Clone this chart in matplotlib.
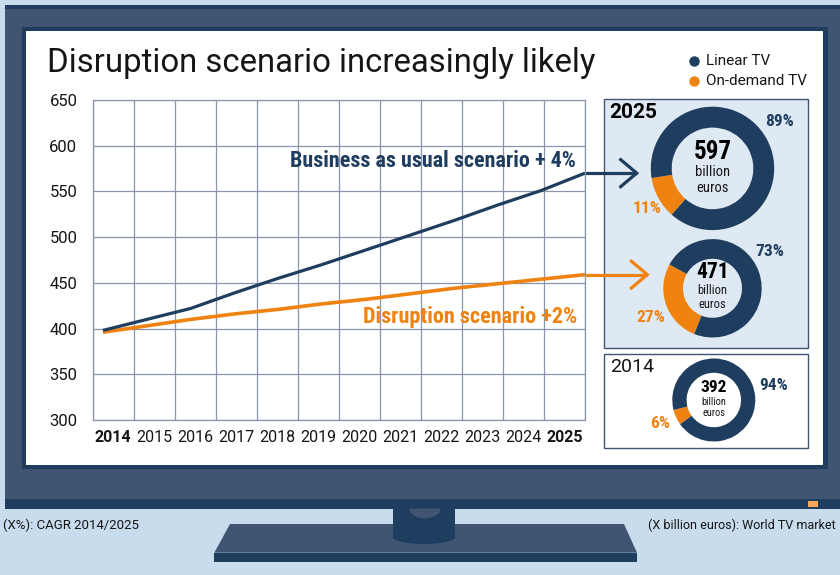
import numpy as np
import matplotlib
matplotlib.use('Agg')
import matplotlib.pyplot as plt
from matplotlib import font_manager
from matplotlib.patches import Rectangle, Polygon, Ellipse

# world TV market, billion euros
years = list(range(2014, 2026))
business = [398, 410, 422, 439, 455, 470, 486, 502, 518, 535, 551, 570]
disruption = [396, 403, 410, 416, 421, 427, 432, 438, 444, 449, 454, 459]

donut_titles = ['2025', '', '2014']
market_total = [597, 471, 392]
linear_share = [89, 73, 94]
ondemand_share = [11, 27, 6]

NAVY = '#1f3d5e'
SLATE = '#405571'
ORANGE = '#f08210'
SKY = '#c9dcee'
PANEL = '#dfe9f3'
GRID = '#8a94ad'
INK = '#161616'

avail = {f.name for f in font_manager.fontManager.ttflist}


def first_font(cands, default='DejaVu Sans'):
    for c in cands:
        if c in avail:
            return c
    return default


REG = first_font(['Roboto', 'Lato', 'Liberation Sans'])
COND = first_font(['Roboto Condensed', 'Liberation Sans Narrow', 'Open Sans Condensed'], REG)
plt.rcParams['font.family'] = [REG, 'DejaVu Sans']

W, H = 840, 575
fig = plt.figure(figsize=(W / 100, H / 100), dpi=100, facecolor=SKY)

# background layer in pixel coordinates (y downwards)
bg = fig.add_axes([0, 0, 1, 1])
bg.set_xlim(0, W)
bg.set_ylim(H, 0)
bg.axis('off')

# monitor body
bg.add_patch(Rectangle((5, 5), 850, 503.5, fc=NAVY, ec='none'))
bg.add_patch(Rectangle((5, 9), 850, 490, fc=SLATE, ec='none'))
bg.add_patch(Rectangle((22, 27), 806.3, 441.7, fc=NAVY, ec='none'))
bg.add_patch(Rectangle((26, 30.7), 797.3, 434.3, fc='white', ec='none'))
bg.add_patch(Rectangle((808, 501), 9.7, 5.7, fc='#f5a95c', ec='none'))

# stand
bg.add_patch(Polygon([(230, 524), (624, 524), (637, 552.7), (214.3, 552.7)],
                     closed=True, fc=SLATE, ec='none'))
bg.add_patch(Rectangle((214.3, 552.7), 422.7, 9.5, fc=NAVY, ec='none'))
bg.add_patch(Rectangle((393, 508), 62, 30, fc=NAVY, ec='none'))
bg.add_patch(Ellipse((424, 537), 62, 14, fc=NAVY, ec='none'))
t = np.linspace(0, np.pi, 40)
bg.add_patch(Polygon(np.column_stack([425 + 15.7 * np.cos(t), 508.5 + 9.8 * np.sin(t)]),
                     closed=True, fc=SLATE, ec='none'))

# footnotes
bg.text(3, 525, '(X%): CAGR 2014/2025', fontsize=9.5, color=INK, va='center')
bg.text(836, 525, '(X billion euros): World TV market', fontsize=9, color=INK,
        va='center', ha='right')

title = bg.text(47, 71.7, 'Disruption scenario increasingly likely', fontsize=24,
                color=INK, va='baseline')

# legend
bg.plot([694], [61], 'o', color=NAVY, ms=6.5)
bg.plot([694], [81], 'o', color=ORANGE, ms=6.5)
bg.text(706, 61, 'Linear TV', fontsize=11, color=INK, va='center')
bg.text(706, 81, 'On-demand TV', fontsize=11, color=INK, va='center')

# donut panels
bg.add_patch(Rectangle((604.3, 99), 203.4, 248.7, fc=PANEL, ec=SLATE, lw=1))
bg.add_patch(Rectangle((604.3, 354), 203.4, 94.3, fc='white', ec=SLATE, lw=1))
bg.text(609, 113, donut_titles[0], fontsize=15, fontweight='bold', color='black', va='center')
bg.text(610, 367.5, donut_titles[2], fontsize=14, color=INK, va='center')

# line chart
ax = fig.add_axes([92.7 / W, 1 - 420 / H, 492.3 / W, 320 / H])
ax.set_xlim(0, 12)
ax.set_ylim(300, 650)
ax.set_xticks(np.arange(13), minor=True)
ax.set_xticks(np.arange(12) + 0.5, labels=[str(y) for y in years])
ax.set_yticks(np.arange(300, 651, 50))
ax.grid(which='minor', axis='x', color=GRID, lw=0.9)
ax.grid(which='major', axis='y', color=GRID, lw=0.9)
ax.tick_params(which='both', length=0)
ax.tick_params(axis='y', labelsize=12, pad=11, labelcolor=INK)
ax.tick_params(axis='x', labelsize=11.5, pad=7, labelcolor=INK)
for lab in ax.get_xticklabels():
    if lab.get_text() in ('2014', '2025'):
        lab.set_fontweight('bold')
for s in ax.spines.values():
    s.set_color(GRID)
    s.set_linewidth(0.9)
ax.set_axisbelow(True)

xpos = np.linspace(0.25, 12, len(years))
ax.plot(xpos, disruption, color=ORANGE, lw=2.6, clip_on=False, solid_capstyle='butt')
ax.plot(xpos, business, color=NAVY, lw=2.3, clip_on=False, solid_capstyle='butt')

# arrows leading to the 2025 donuts
px_x = 12 / 492.3          # data x per pixel
px_y = 350 / 320           # data y per pixel
for vals, tip, col in [(business, 636.7, NAVY), (disruption, 647.3, ORANGE)]:
    xt = (tip - 92.7) * px_x
    yv = vals[-1]
    ax.plot([12, xt], [yv, yv], color=col, lw=2.3, clip_on=False, solid_capstyle='butt')
    ax.plot([xt - 16 * px_x, xt, xt - 16 * px_x],
            [yv + 13.5 * px_y, yv, yv - 13.5 * px_y],
            color=col, lw=2.3, clip_on=False, solid_joinstyle='miter')

bau_lbl = ax.text(11.77, 583.6, 'Business as usual scenario + 4%', ha='right', va='center',
                  fontsize=16, fontweight='bold', color=NAVY, family=[COND, 'DejaVu Sans'])
dis_lbl = ax.text(11.82, 413, 'Disruption scenario +2%', ha='right', va='center',
                  fontsize=16, fontweight='bold', color=ORANGE, family=[COND, 'DejaVu Sans'])

# donuts: centre (px), outer radius, inner radius
geo = [(712.5, 168.4, 61.7, 40.8), (712.5, 288.3, 49.2, 29.5), (713.8, 400.0, 41.5, 27.2)]
starts = [189, 151, 194]
num_size = [18, 15.5, 12.5]
unit_size = [10.5, 9, 7.5]
unit_dy = [(-16.7, 3.3, 19.9), (-15.8, 1.7, 16.7), (-12.5, 1.7, 12.7)]
pct_pos = [((780, 122), (646.7, 208.3)), ((770, 251.7), (651, 317.3)),
           ((774, 385), (660, 423.3))]

for i, (cx, cy, ro, ri) in enumerate(geo):
    dax = fig.add_axes([(cx - ro) / W, 1 - (cy + ro) / H, 2 * ro / W, 2 * ro / H])
    dax.pie([ondemand_share[i], linear_share[i]], colors=[ORANGE, NAVY], startangle=starts[i],
            radius=1, wedgeprops=dict(width=1 - ri / ro, edgecolor='none'))
    dax.set_xlim(-1, 1)
    dax.set_ylim(-1, 1)
    dax.axis('off')
    d0, d1, d2 = unit_dy[i]
    bg.text(cx, cy + d0, str(market_total[i]), ha='center', va='center', fontsize=num_size[i],
            fontweight='bold', color='black', family=[COND, 'DejaVu Sans'])
    bg.text(cx, cy + d1, 'billion', ha='center', va='center', fontsize=unit_size[i], color=INK,
            family=[COND, 'DejaVu Sans'])
    bg.text(cx, cy + d2, 'euros', ha='center', va='center', fontsize=unit_size[i], color=INK,
            family=[COND, 'DejaVu Sans'])
    (lx, ly), (ox, oy) = pct_pos[i]
    bg.text(lx, ly, f'{linear_share[i]}%', ha='center', va='center', fontsize=12.5,
            fontweight='bold', color=NAVY, family=[COND, 'DejaVu Sans'])
    bg.text(ox, oy, f'{ondemand_share[i]}%', ha='center', va='center', fontsize=12.5,
            fontweight='bold', color=ORANGE, family=[COND, 'DejaVu Sans'])

# squeeze the wide labels into the space they have
renderer = fig.canvas.get_renderer()
for txt, width in [(title, 548), (bau_lbl, 286), (dis_lbl, 233)]:
    w = txt.get_window_extent(renderer).width
    if w > width:
        txt.set_fontsize(txt.get_fontsize() * width / w)

fig.savefig('out.png', dpi=100, facecolor=SKY)
